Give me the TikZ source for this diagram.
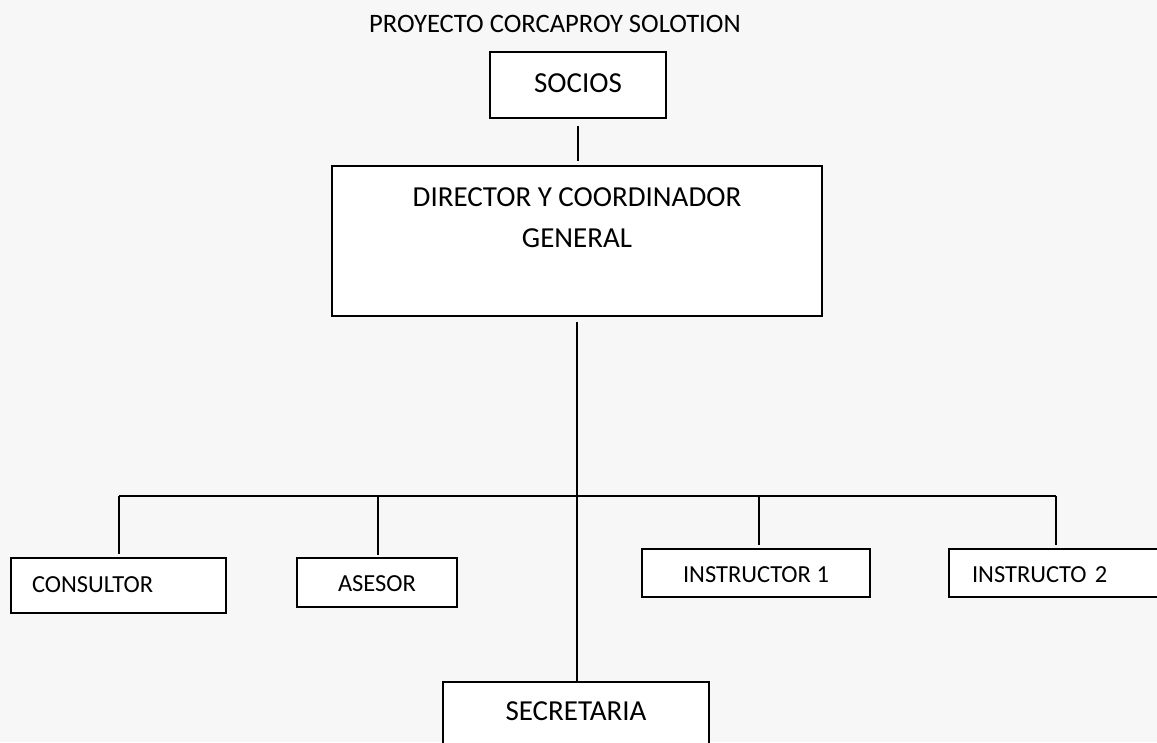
\documentclass[tikz,border=0pt]{standalone}
\usepackage{fontspec}
\setmainfont{Carlito}
\definecolor{pagebg}{HTML}{F7F7F7}
\tikzset{
  box/.style={draw=black, fill=white, line width=1.7pt, rectangle, inner sep=0pt},
  link/.style={draw=black, line width=1.7pt},
  bigtxt/.style={font=\fontsize{29}{35}\selectfont},
  smalltxt/.style={font=\fontsize{24.5}{29}\selectfont},
}
\begin{document}
\begin{tikzpicture}[x=1pt,y=-1pt]
  % page area and background
  \fill[pagebg] (0,0) rectangle (1157,742);
  \useasboundingbox (0,0) rectangle (1157,742);
  \clip (0,0) rectangle (1157,742);

  % title
  \node[anchor=base, font=\fontsize{26.6}{32}\selectfont, inner sep=0pt] (title) at (555,32) {PROYECTO CORCAPROY SOLOTION};

  % top of the chart
  \node[box, bigtxt, minimum width=176pt, minimum height=66pt, text height=20pt, text depth=6pt]
    (socios) at (578,85) {SOCIOS};
  \node[box, minimum width=490pt, minimum height=150pt] (dir) at (577,241) {};
  \node[anchor=base, bigtxt, inner sep=0pt] (dirA) at (577,206) {DIRECTOR Y COORDINADOR};
  \node[anchor=base, bigtxt, inner sep=0pt] (dirB) at (577,247) {GENERAL};

  % staff boxes
  \node[box, smalltxt, minimum width=215pt, minimum height=55pt, text width=173pt, align=left,
        text height=17pt, text depth=4pt] (cons) at (118.5,585.5) {CONSULTOR};
  \node[box, smalltxt, minimum width=160pt, minimum height=49pt, text height=19pt, text depth=2pt]
    (ases) at (377,582.5) {ASESOR};
  \node[box, smalltxt, minimum width=228pt, minimum height=48pt, text height=19pt, text depth=1pt]
    (ins1) at (756,573) {INSTRUCTOR 1};
  \node[box, smalltxt, minimum width=231pt, minimum height=48pt, text width=185pt, align=left,
        text height=19pt, text depth=1pt] (ins2) at (1064.5,573) {INSTRUCTO 2};
  \node[box, bigtxt, minimum width=266pt, minimum height=78pt, text height=20pt, text depth=22pt]
    (sec) at (576,721) {SECRETARIA};

  % branch line
  \coordinate (busL) at (119,496);
  \coordinate (busR) at (1056,496);
  \coordinate (brA) at (378,496);
  \coordinate (brB) at (759,496);

  % connectors
  \draw[link, shorten <=7pt, shorten >=4pt] (socios.south) -- (socios.south |- dir.north);
  \draw[link, shorten <=5pt] (dir.south) -- (dir.south |- sec.north);
  \draw[link] (busL) -- (busR);
  \draw[link, shorten >=3pt] (busL) -- (busL |- cons.north);
  \draw[link, shorten >=2pt] (brA) -- (brA |- ases.north);
  \draw[link, shorten >=3pt] (brB) -- (brB |- ins1.north);
  \draw[link, shorten >=3pt] (busR) -- (busR |- ins2.north);
\end{tikzpicture}
\end{document}
